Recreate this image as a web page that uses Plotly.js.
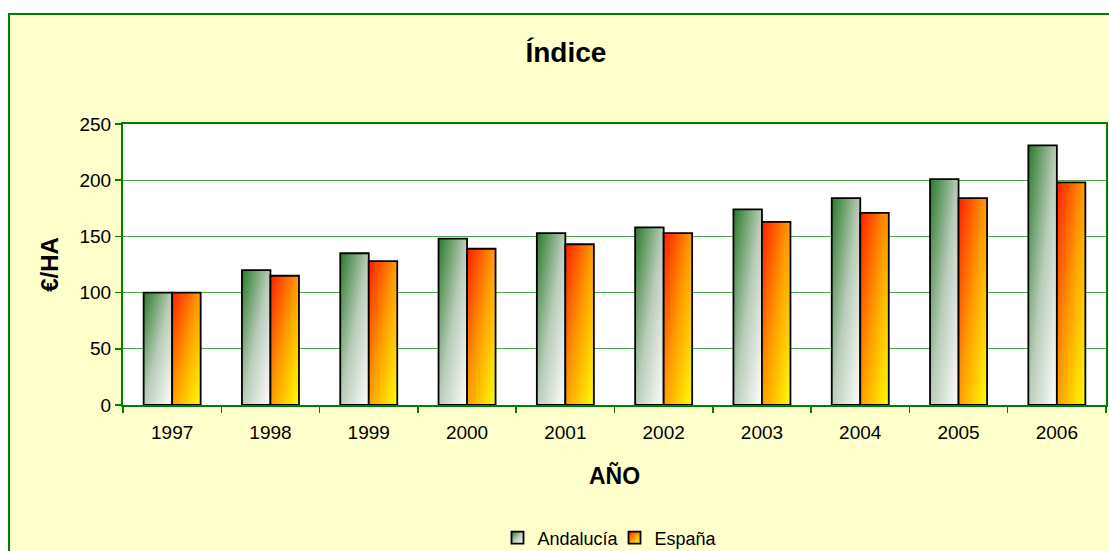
<!DOCTYPE html>
<html>
<head>
<meta charset="utf-8">
<script src="https://cdn.plot.ly/plotly-3.0.1.min.js"></script>
<style>
  html, body { margin: 0; padding: 0; background: #ffffff; overflow: hidden; width: 1109px; height: 551px; }
  #frame { position: absolute; left: 8px; top: 13px; width: 1102px; height: 540px;
           border-left: 2px solid #008000; border-top: 2px solid #008000; background: #FFFFCC; }
  #chart { width: 1102px; height: 540px; }
</style>
</head>
<body>
<div id="frame"><div id="chart"></div></div>
<script>
const years = ['1997','1998','1999','2000','2001','2002','2003','2004','2005','2006'];
const andalucia = [100, 120, 135, 148, 153, 158, 174, 184, 201, 231];
const espana    = [100, 115, 128, 139, 143, 153, 163, 171, 184, 198];
const seriesNames = ['Andalucía', 'España'];

const FONT = 'Liberation Sans, Arial, sans-serif';

const traces = [
  { type: 'bar', name: seriesNames[0], x: years, y: andalucia,
    marker: { color: '#8fb08f', line: { color: '#000000', width: 1.8 } } },
  { type: 'bar', name: seriesNames[1], x: years, y: espana,
    marker: { color: '#ff9900', line: { color: '#000000', width: 1.8 } } }
];

const layout = {
  width: 1102, height: 540,
  paper_bgcolor: '#FFFFCC',
  plot_bgcolor: '#FFFFFF',
  margin: { l: 113, r: 6, t: 109, b: 150, autoexpand: false },
  barmode: 'group',
  bargap: 0.42,
  bargroupgap: 0,
  font: { family: FONT, size: 19, color: '#000000' },
  title: { text: '<b>Índice</b>', font: { family: FONT, size: 28, color: '#000000' },
           xref: 'container', x: 0.5045, xanchor: 'center',
           yref: 'container', y: 0.931, yanchor: 'middle' },
  xaxis: {
    type: 'category',
    tickson: 'boundaries',
    ticks: 'outside', ticklen: 6, tickcolor: '#008000', tickwidth: 1.5,
    ticklabelstandoff: 9,
    showline: true, linecolor: '#008000', linewidth: 2, mirror: true,
    showgrid: false,
    tickfont: { family: FONT, size: 19, color: '#000000' },
    title: { text: '<b>AÑO</b>', font: { family: FONT, size: 23, color: '#000000' }, standoff: 26 }
  },
  yaxis: {
    range: [0, 250], dtick: 50, tick0: 0,
    ticks: 'outside', ticklen: 6, tickcolor: '#008000', tickwidth: 1.5,
    showline: true, linecolor: '#008000', linewidth: 2, mirror: true,
    showgrid: true, gridcolor: '#4ea64e', gridwidth: 1.3,
    zeroline: false,
    tickfont: { family: FONT, size: 19, color: '#000000' },
    title: { text: '<b>€/HA</b>', font: { family: FONT, size: 24, color: '#000000' }, standoff: 14 }
  },
  legend: {
    orientation: 'h', x: 0.5, xanchor: 'center', y: -0.473, yanchor: 'middle',
    font: { family: FONT, size: 18, color: '#000000' },
    bgcolor: 'rgba(0,0,0,0)', itemwidth: 30,
    entrywidth: 72, entrywidthmode: 'pixels'
  },
  showlegend: true
};

function applyGradients(gd) {
  const svg = gd.querySelector('svg.main-svg');
  const ns = 'http://www.w3.org/2000/svg';
  let defs = svg.querySelector('defs');
  if (!defs) { defs = document.createElementNS(ns, 'defs'); svg.insertBefore(defs, svg.firstChild); }
  const grads = [
    { id: 'gradAnd', stops: [[0, '#2a792a'], [0.5, '#b9ccb9'], [1, '#ffffff']] },
    { id: 'gradEsp', stops: [[0, '#ff1e00'], [0.5, '#ff9d00'], [1, '#ffff00']] }
  ];
  grads.forEach(g => {
    const lg = document.createElementNS(ns, 'linearGradient');
    lg.setAttribute('id', g.id);
    lg.setAttribute('x1', '0'); lg.setAttribute('y1', '0');
    lg.setAttribute('x2', '1'); lg.setAttribute('y2', '1');
    g.stops.forEach(s => {
      const st = document.createElementNS(ns, 'stop');
      st.setAttribute('offset', s[0]);
      st.setAttribute('stop-color', s[1]);
      lg.appendChild(st);
    });
    defs.appendChild(lg);
  });
  const barTraces = gd.querySelectorAll('g.trace.bars');
  barTraces.forEach((t, i) => {
    t.querySelectorAll('path').forEach(p => { p.style.fill = 'url(#' + grads[i].id + ')'; });
  });
  const legendTraces = gd.querySelectorAll('.legend .traces');
  legendTraces.forEach((t, i) => {
    t.querySelectorAll('.legendpoints path').forEach(p => { p.style.fill = 'url(#' + grads[i].id + ')'; });
  });
}

Plotly.newPlot('chart', traces, layout, { displayModeBar: false, staticPlot: true })
  .then(applyGradients);
</script>
</body>
</html>
